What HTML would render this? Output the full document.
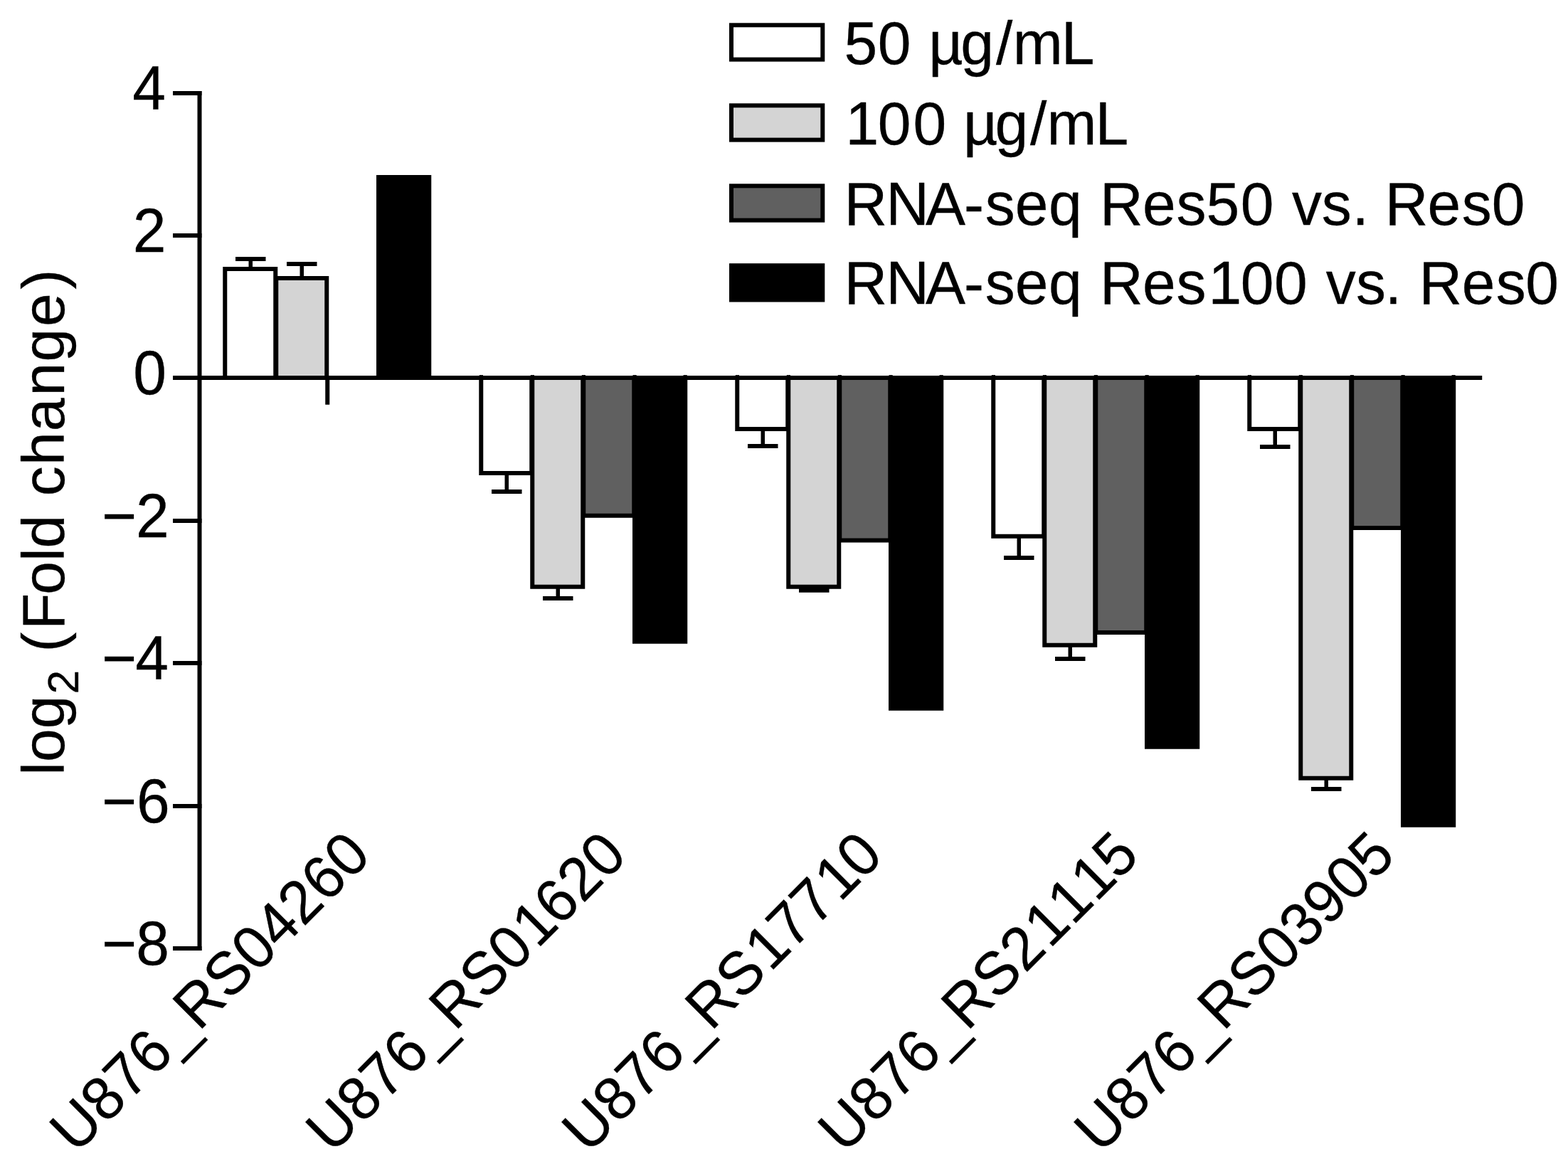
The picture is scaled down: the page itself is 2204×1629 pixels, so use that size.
<!DOCTYPE html>
<html lang="en">
<head>
<meta charset="utf-8">
<title>qRT-PCR vs RNA-seq log2 fold change</title>
<style>
html,body{margin:0;padding:0;background:#fff;overflow:hidden;}
body{width:2204px;height:1629px;overflow:hidden;}
svg{display:block;}
text{font-family:"Liberation Sans",Arial,Helvetica,sans-serif;fill:#000;stroke:#000;stroke-width:0.3px;font-kerning:none;white-space:pre;}
</style>
</head>
<body>
<svg width="2204" height="1629" viewBox="0 0 2204 1629">
<rect x="0" y="0" width="2204" height="1629" fill="#fff"/>
<rect x="277.50" y="128.00" width="6.00" height="1208.00" fill="#000"/>
<rect x="243.00" y="128.00" width="40.50" height="6.00" fill="#000"/>
<rect x="243.00" y="328.00" width="40.50" height="6.00" fill="#000"/>
<rect x="243.00" y="528.00" width="40.50" height="6.00" fill="#000"/>
<rect x="243.00" y="729.00" width="40.50" height="6.00" fill="#000"/>
<rect x="243.00" y="929.00" width="40.50" height="6.00" fill="#000"/>
<rect x="243.00" y="1130.00" width="40.50" height="6.00" fill="#000"/>
<rect x="243.00" y="1330.00" width="40.50" height="6.00" fill="#000"/>
<rect x="243.00" y="528.00" width="1840.25" height="6.00" fill="#000"/>
<rect x="349.50" y="364.00" width="5.50" height="14.00" fill="#000"/>
<rect x="331.00" y="361.00" width="42.50" height="6.00" fill="#000"/>
<rect x="313.25" y="375.00" width="77.00" height="159.00" fill="#000"/>
<rect x="319.25" y="381.00" width="65.00" height="147.00" fill="#fff"/>
<rect x="421.50" y="371.00" width="5.50" height="20.00" fill="#000"/>
<rect x="403.00" y="368.00" width="42.50" height="6.00" fill="#000"/>
<rect x="385.25" y="388.00" width="77.00" height="146.00" fill="#000"/>
<rect x="391.25" y="394.00" width="65.00" height="134.00" fill="#d4d4d4"/>
<rect x="529.00" y="246.00" width="77.25" height="288.00" fill="#000"/>
<rect x="709.50" y="665.00" width="5.50" height="26.00" fill="#000"/>
<rect x="691.00" y="688.00" width="42.50" height="6.00" fill="#000"/>
<rect x="673.25" y="528.00" width="77.00" height="140.00" fill="#000"/>
<rect x="673.75" y="527.10" width="5.25" height="0.90" fill="#000"/>
<rect x="679.25" y="534.00" width="65.00" height="128.00" fill="#fff"/>
<rect x="781.50" y="824.75" width="5.50" height="16.25" fill="#000"/>
<rect x="763.00" y="838.00" width="42.50" height="6.00" fill="#000"/>
<rect x="745.25" y="528.00" width="77.00" height="299.75" fill="#000"/>
<rect x="745.75" y="527.10" width="5.25" height="0.90" fill="#000"/>
<rect x="751.25" y="534.00" width="65.00" height="287.75" fill="#d4d4d4"/>
<rect x="817.25" y="528.00" width="77.00" height="199.75" fill="#000"/>
<rect x="817.75" y="527.10" width="5.25" height="0.90" fill="#000"/>
<rect x="823.25" y="534.00" width="65.00" height="187.75" fill="#606060"/>
<rect x="889.00" y="528.00" width="77.25" height="376.75" fill="#000"/>
<rect x="889.50" y="527.10" width="5.25" height="0.90" fill="#000"/>
<rect x="960.50" y="527.10" width="5.25" height="0.90" fill="#000"/>
<rect x="1069.50" y="603.00" width="5.50" height="24.00" fill="#000"/>
<rect x="1051.00" y="624.00" width="42.50" height="6.00" fill="#000"/>
<rect x="1033.25" y="528.00" width="77.00" height="78.00" fill="#000"/>
<rect x="1033.75" y="527.10" width="5.25" height="0.90" fill="#000"/>
<rect x="1039.25" y="534.00" width="65.00" height="66.00" fill="#fff"/>
<rect x="1141.50" y="824.75" width="5.50" height="5.00" fill="#000"/>
<rect x="1123.00" y="826.75" width="42.50" height="6.00" fill="#000"/>
<rect x="1105.25" y="528.00" width="77.00" height="299.75" fill="#000"/>
<rect x="1105.75" y="527.10" width="5.25" height="0.90" fill="#000"/>
<rect x="1111.25" y="534.00" width="65.00" height="287.75" fill="#d4d4d4"/>
<rect x="1177.25" y="528.00" width="77.00" height="234.50" fill="#000"/>
<rect x="1177.75" y="527.10" width="5.25" height="0.90" fill="#000"/>
<rect x="1183.25" y="534.00" width="65.00" height="222.50" fill="#606060"/>
<rect x="1249.00" y="528.00" width="77.25" height="470.75" fill="#000"/>
<rect x="1249.50" y="527.10" width="5.25" height="0.90" fill="#000"/>
<rect x="1320.50" y="527.10" width="5.25" height="0.90" fill="#000"/>
<rect x="1429.50" y="753.75" width="5.50" height="30.25" fill="#000"/>
<rect x="1411.00" y="781.00" width="42.50" height="6.00" fill="#000"/>
<rect x="1393.25" y="528.00" width="77.00" height="228.75" fill="#000"/>
<rect x="1393.75" y="527.10" width="5.25" height="0.90" fill="#000"/>
<rect x="1399.25" y="534.00" width="65.00" height="216.75" fill="#fff"/>
<rect x="1501.50" y="906.75" width="5.50" height="19.25" fill="#000"/>
<rect x="1483.00" y="923.00" width="42.50" height="6.00" fill="#000"/>
<rect x="1465.25" y="528.00" width="77.00" height="381.75" fill="#000"/>
<rect x="1465.75" y="527.10" width="5.25" height="0.90" fill="#000"/>
<rect x="1471.25" y="534.00" width="65.00" height="369.75" fill="#d4d4d4"/>
<rect x="1537.25" y="528.00" width="77.00" height="364.00" fill="#000"/>
<rect x="1537.75" y="527.10" width="5.25" height="0.90" fill="#000"/>
<rect x="1543.25" y="534.00" width="65.00" height="352.00" fill="#606060"/>
<rect x="1609.00" y="528.00" width="77.25" height="524.75" fill="#000"/>
<rect x="1609.50" y="527.10" width="5.25" height="0.90" fill="#000"/>
<rect x="1680.50" y="527.10" width="5.25" height="0.90" fill="#000"/>
<rect x="1789.50" y="603.00" width="5.50" height="25.00" fill="#000"/>
<rect x="1771.00" y="625.00" width="42.50" height="6.00" fill="#000"/>
<rect x="1753.25" y="528.00" width="77.00" height="78.00" fill="#000"/>
<rect x="1753.75" y="527.10" width="5.25" height="0.90" fill="#000"/>
<rect x="1759.25" y="534.00" width="65.00" height="66.00" fill="#fff"/>
<rect x="1861.50" y="1093.75" width="5.50" height="15.25" fill="#000"/>
<rect x="1843.00" y="1106.00" width="42.50" height="6.00" fill="#000"/>
<rect x="1825.25" y="528.00" width="77.00" height="568.75" fill="#000"/>
<rect x="1825.75" y="527.10" width="5.25" height="0.90" fill="#000"/>
<rect x="1831.25" y="534.00" width="65.00" height="556.75" fill="#d4d4d4"/>
<rect x="1897.25" y="528.00" width="77.00" height="217.00" fill="#000"/>
<rect x="1897.75" y="527.10" width="5.25" height="0.90" fill="#000"/>
<rect x="1903.25" y="534.00" width="65.00" height="205.00" fill="#606060"/>
<rect x="1969.00" y="528.00" width="77.25" height="634.75" fill="#000"/>
<rect x="1969.50" y="527.10" width="5.25" height="0.90" fill="#000"/>
<rect x="2040.50" y="527.10" width="5.25" height="0.90" fill="#000"/>
<rect x="457.25" y="530.00" width="6.00" height="38.75" fill="#000"/>
<rect x="1025.00" y="32.30" width="134.30" height="54.30" fill="#000"/>
<rect x="1031.00" y="38.30" width="122.30" height="42.30" fill="#fff"/>
<rect x="1025.00" y="145.30" width="134.30" height="54.30" fill="#000"/>
<rect x="1031.00" y="151.30" width="122.30" height="42.30" fill="#d4d4d4"/>
<rect x="1025.00" y="258.30" width="134.30" height="54.30" fill="#000"/>
<rect x="1031.00" y="264.30" width="122.30" height="42.30" fill="#606060"/>
<rect x="1025.00" y="370.20" width="134.30" height="54.30" fill="#000"/>
<text xml:space="preserve" transform="translate(1186.5 90.3) scale(1 1.022)" font-size="84" x="0 47.32 94.93 118.87 163.72 213.59 237.22 305.2">50 µg/mL</text>
<text xml:space="preserve" transform="translate(1186.5 202.9) scale(1 1.022)" font-size="84" x="2 47.37 96.93 143.95 167.49 211.89 261.6 284.94 353.11">100 µg/mL</text>
<text xml:space="preserve" transform="translate(1186.5 315.9) scale(1 1.022)" font-size="84" x="0 58.66 114.47 168.5 198.27 240.37 287.54 335.26 359.5 419.41 467.07 509.02 557.19 605.41 629.6 671.25 713.95 737.08 760.32 820.13 868.3 910.3">RNA-seq Res50 vs. Res0</text>
<text xml:space="preserve" transform="translate(1186.5 426.9) scale(1 1.022)" font-size="84" x="0 58.66 114.47 168.5 198.27 240.37 287.54 335.26 359.5 419.41 467.07 511.97 557.19 604.51 652.62 677.36 719.56 760.26 784.3 808.14 868.3 916.37 957.82">RNA-seq Res100 vs. Res0</text>
<text xml:space="preserve" transform="translate(0 153.9) scale(1 1.035)" font-size="84" x="186.18">4</text>
<text xml:space="preserve" transform="translate(0 353.9) scale(1 1.035)" font-size="84" x="186.78">2</text>
<text xml:space="preserve" transform="translate(0 553.9) scale(1 1.035)" font-size="84" x="187.33">0</text>
<text xml:space="preserve" transform="translate(0 754.9) scale(1 1.035)" font-size="84" x="143.23 191.03">−2</text>
<text xml:space="preserve" transform="translate(0 954.9) scale(1 1.035)" font-size="84" x="143.23 190.28">−4</text>
<text xml:space="preserve" transform="translate(0 1155.9) scale(1 1.035)" font-size="84" x="143.23 191.88">−6</text>
<text xml:space="preserve" transform="translate(0 1355.9) scale(1 1.035)" font-size="84" x="143.23 191.38">−8</text>
<text xml:space="preserve" transform="translate(90.3 1089.7) rotate(-90) scale(1 0.995)" font-size="84" x="0 18.66 65.38 114.3 150 173.3 204.8 253.9 300.64 319.3 366 392.46 435.66 483.58 533.2 581.12 630.64 683.07" dy="0 0 0 19.3 -19.3 0 0 0 0 0 0 0 0 0 0 0 0 0">log<tspan font-size="60.5">2</tspan> (Fold change)</text>
<text xml:space="preserve" transform="translate(524.2 1205.5) rotate(-45) scale(1 1.035)" font-size="83" x="-590.69 -530.75 -484.59 -438.42 -392.26 -346.1 -286.16 -230.8 -184.64 -138.48 -92.32 -46.16">U876_RS04260</text>
<text xml:space="preserve" transform="translate(884.2 1205.5) rotate(-45) scale(1 1.035)" font-size="83" x="-590.69 -530.75 -484.59 -438.42 -392.26 -346.1 -286.16 -230.8 -182.14 -138.48 -92.32 -46.16">U876_RS01620</text>
<text xml:space="preserve" transform="translate(1244.2 1205.5) rotate(-45) scale(1 1.035)" font-size="83" x="-590.69 -530.75 -484.59 -438.42 -392.26 -346.1 -286.16 -228.3 -184.64 -138.48 -89.82 -46.16">U876_RS17710</text>
<text xml:space="preserve" transform="translate(1604.2 1205.5) rotate(-45) scale(1 1.035)" font-size="83" x="-590.69 -530.75 -484.59 -438.42 -392.26 -346.1 -286.16 -230.8 -182.14 -135.98 -89.82 -46.16">U876_RS21115</text>
<text xml:space="preserve" transform="translate(1964.2 1205.5) rotate(-45) scale(1 1.035)" font-size="83" x="-590.69 -530.75 -484.59 -438.42 -392.26 -346.1 -286.16 -230.8 -184.64 -138.48 -92.32 -46.16">U876_RS03905</text>
</svg>
</body>
</html>
